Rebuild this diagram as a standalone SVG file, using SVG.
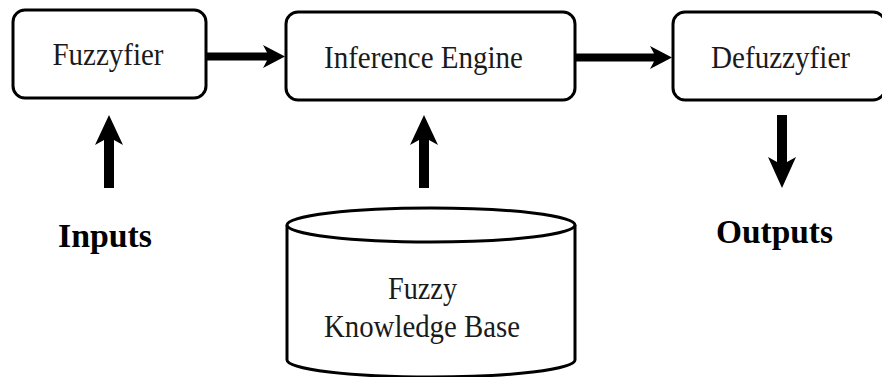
<svg xmlns="http://www.w3.org/2000/svg" width="882" height="377" viewBox="0 0 882 377">
  <style>
    .box { fill: #ffffff; stroke: #000000; stroke-width: 3; }
    .label { font-family: "Liberation Serif", "Times New Roman", serif; font-size: 32px; fill: #1a1a1a; text-anchor: middle; }
    .io { font-family: "Liberation Serif", "Times New Roman", serif; font-size: 33px; font-weight: bold; fill: #000000; text-anchor: middle; }
    .arrow { fill: #000000; stroke: none; }
  </style>
  <rect width="882" height="377" fill="#ffffff"/>

  <g id="fuzzyfier">
    <rect class="box" x="13" y="10" width="193" height="88" rx="12" ry="12"/>
    <text class="label" x="108" y="65" textLength="111" lengthAdjust="spacingAndGlyphs">Fuzzyfier</text>
  </g>

  <g id="inference-engine">
    <rect class="box" x="286" y="12" width="289" height="88" rx="12" ry="12"/>
    <text class="label" x="423.5" y="68" textLength="199" lengthAdjust="spacingAndGlyphs">Inference Engine</text>
  </g>

  <g id="defuzzyfier">
    <rect class="box" x="673" y="12" width="212" height="88" rx="12" ry="12"/>
    <text class="label" x="780.5" y="68" textLength="139" lengthAdjust="spacingAndGlyphs">Defuzzyfier</text>
  </g>

  <g id="knowledge-base">
    <path class="box" d="M287,225 L287,360 A144,17 0 0 0 575,360 L575,225"/>
    <ellipse class="box" cx="431" cy="225" rx="144" ry="17"/>
    <text class="label" x="422.5" y="299" textLength="69" lengthAdjust="spacingAndGlyphs">Fuzzy</text>
    <text class="label" x="422" y="337" textLength="196" lengthAdjust="spacingAndGlyphs">Knowledge Base</text>
  </g>

  <g id="inputs">
    <text class="io" x="105" y="247" textLength="94" lengthAdjust="spacingAndGlyphs">Inputs</text>
  </g>

  <g id="outputs">
    <text class="io" x="774.5" y="243" textLength="117" lengthAdjust="spacingAndGlyphs">Outputs</text>
  </g>

  <g id="connectors">
    <!-- Fuzzyfier to Inference Engine -->
    <polygon class="arrow" points="207,52.5 267,52.5 263,45 285,56.5 263,68 267,60.5 207,60.5"/>
    <!-- Inference Engine to Defuzzyfier -->
    <polygon class="arrow" points="576,53.5 654,53.5 650,46 672,57.5 650,69 654,61.5 576,61.5"/>
    <!-- Inputs up to Fuzzyfier -->
    <polygon class="arrow" points="109,115 123,145 114,140 114,188 104,188 104,140 95,145"/>
    <!-- Knowledge base up to Inference Engine -->
    <polygon class="arrow" points="424,115 438,145 429,140 429,188 419,188 419,140 410,145"/>
    <!-- Defuzzyfier down to Outputs -->
    <polygon class="arrow" points="777,115 787,115 787,162 796,157 782,188 768,157 777,162"/>
  </g>
</svg>
